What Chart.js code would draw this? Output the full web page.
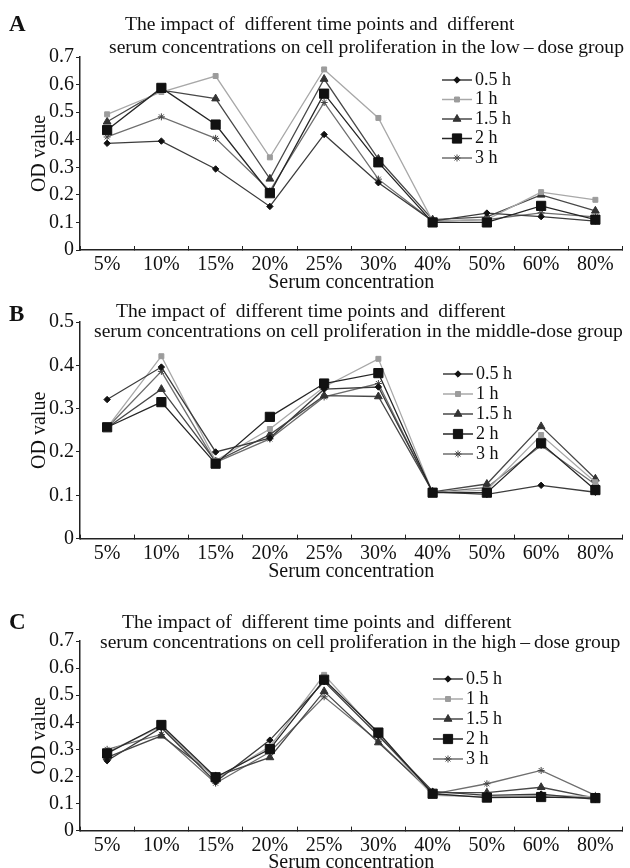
<!DOCTYPE html>
<html>
<head>
<meta charset="utf-8">
<script src="https://cdn.jsdelivr.net/npm/chart.js@4.4.0/dist/chart.umd.min.js"></script>
<style>
  html, body { margin: 0; padding: 0; background: #fff; }
  body { width: 630px; height: 868px; position: relative; overflow: hidden; }
  .panel { position: absolute; left: 0; width: 630px; }
  canvas { display: block; }
</style>
</head>
<body>
<div class="panel" style="top:0px"><canvas id="chartA" width="630" height="290"></canvas></div>
<div class="panel" style="top:290px"><canvas id="chartB" width="630" height="290"></canvas></div>
<div class="panel" style="top:580px"><canvas id="chartC" width="630" height="288"></canvas></div>
<script>
// x categories and series names
const categories = ['5%', '10%', '15%', '20%', '25%', '30%', '40%', '50%', '60%', '80%'];
const seriesNames = ['0.5 h', '1 h', '1.5 h', '2 h', '3 h'];

// A - low-dose group (OD value)
const low05 = [0.387, 0.395, 0.294, 0.158, 0.419, 0.244, 0.105, 0.134, 0.121, 0.105];
const low1  = [0.492, 0.573, 0.631, 0.336, 0.655, 0.479, 0.105, 0.110, 0.210, 0.182];
const low15 = [0.465, 0.580, 0.549, 0.258, 0.620, 0.330, 0.110, 0.120, 0.200, 0.142];
const low2  = [0.435, 0.588, 0.455, 0.206, 0.567, 0.318, 0.100, 0.100, 0.160, 0.110];
const low3  = [0.410, 0.483, 0.405, 0.215, 0.535, 0.257, 0.105, 0.110, 0.135, 0.120];

// B - middle-dose group
const mid05 = [0.321, 0.396, 0.200, 0.232, 0.345, 0.350, 0.108, 0.102, 0.123, 0.107];
const mid1  = [0.256, 0.421, 0.180, 0.253, 0.350, 0.415, 0.106, 0.112, 0.239, 0.130];
const mid15 = [0.256, 0.345, 0.178, 0.240, 0.330, 0.328, 0.108, 0.126, 0.259, 0.138];
const mid2  = [0.257, 0.315, 0.173, 0.281, 0.358, 0.382, 0.106, 0.106, 0.220, 0.112];
const mid3  = [0.256, 0.386, 0.176, 0.230, 0.327, 0.358, 0.106, 0.118, 0.215, 0.125];

// C - high-dose group
const high05 = [0.258, 0.380, 0.180, 0.334, 0.550, 0.350, 0.145, 0.130, 0.135, 0.115];
const high1  = [0.290, 0.385, 0.190, 0.310, 0.575, 0.355, 0.130, 0.125, 0.130, 0.125];
const high15 = [0.270, 0.350, 0.200, 0.270, 0.514, 0.325, 0.140, 0.140, 0.160, 0.120];
const high2  = [0.285, 0.390, 0.197, 0.301, 0.557, 0.362, 0.136, 0.122, 0.124, 0.120];
const high3  = [0.300, 0.355, 0.175, 0.290, 0.494, 0.330, 0.135, 0.173, 0.222, 0.130];

// y axis ranges
const yMaxLow = 0.7, yMaxMid = 0.5, yMaxHigh = 0.7;
const yStep = 0.1;

const FONT = "'Liberation Serif', 'Times New Roman', serif";

// look of each time point
const seriesStyle = [
  { line: '#3c3c3c', fill: '#111', point: 'rectRot', r: 3.2, order: 1 },
  { line: '#a8a8a8', fill: '#9c9c9c', point: 'rect', r: 3.5, order: 1 },
  { line: '#484848', fill: '#333', point: 'triangle', r: 4.5, order: 1 },
  { line: '#262626', fill: '#111', point: 'rect', r: 6.5, order: 0 },
  { line: '#6e6e6e', fill: '#444', point: 'star', r: 3.5, order: 1 }
];

function buildDatasets(rows) {
  return rows.map((vals, i) => {
    const s = seriesStyle[i];
    return {
      label: seriesNames[i],
      data: vals,
      borderColor: s.line,
      borderWidth: 1.3,
      pointStyle: s.point,
      pointRadius: s.r,
      pointBackgroundColor: s.fill,
      pointBorderColor: s.fill,
      pointBorderWidth: 1,
      order: s.order,
      tension: 0
    };
  });
}

function marker(ctx, style, r, x, y, fill) {
  if (Chart.helpers && Chart.helpers.drawPoint) {
    ctx.fillStyle = fill;
    ctx.strokeStyle = fill;
    ctx.lineWidth = 1;
    Chart.helpers.drawPoint(ctx, { pointStyle: style, radius: r, borderWidth: 1, rotation: 0 }, x, y);
  }
}

// legend + titles + panel letter
const panelText = {
  id: 'panelText',
  afterDraw(chart) {
    const o = chart.options.plugins.panelText;
    const ctx = chart.ctx;
    ctx.save();
    ctx.fillStyle = '#111';
    ctx.textBaseline = 'middle';
    ctx.textAlign = 'left';
    ctx.font = 'bold 23px ' + FONT;
    ctx.fillText(o.letter, 9, o.letterY);
    ctx.font = '19.6px ' + FONT;
    o.lines.forEach(l => ctx.fillText(l.text, l.x, l.y));

    // legend
    chart.data.datasets.forEach((ds, i) => {
      const s = seriesStyle[i];
      const y = o.legY + i * o.legStep;
      ctx.strokeStyle = s.line;
      ctx.lineWidth = 1.5;
      ctx.beginPath();
      ctx.moveTo(o.legX, y);
      ctx.lineTo(o.legX + 30, y);
      ctx.stroke();
      marker(ctx, s.point, s.r, o.legX + 15, y, s.fill);
      ctx.fillStyle = '#111';
      ctx.font = '18px ' + FONT;
      ctx.textBaseline = 'middle';
      ctx.fillText(ds.label, o.legX + 33, y);
    });
    ctx.restore();
  }
};

function makeChart(id, rows, yMax, p) {
  const canvas = document.getElementById(id);
  const h = canvas.height;
  return new Chart(canvas, {
    type: 'line',
    data: { labels: categories, datasets: buildDatasets(rows) },
    plugins: [panelText],
    options: {
      responsive: false,
      animation: false,
      devicePixelRatio: 1,
      layout: { padding: { top: p.areaTop, left: 0, right: 3, bottom: 0 } },
      plugins: {
        legend: { display: false },
        tooltip: { enabled: false },
        panelText: p
      },
      scales: {
        x: {
          offset: true,
          grid: { offset: true, drawOnChartArea: false, tickLength: -4, color: '#222', lineWidth: 1 },
          border: { color: '#222', width: 1.5 },
          ticks: { color: '#111', padding: 7, font: { family: FONT, size: 20 }, maxRotation: 0, autoSkip: false },
          title: {
            display: true, text: 'Serum concentration', color: '#111',
            font: { family: FONT, size: 20, lineHeight: 0.5 },
            padding: { top: 0, bottom: p.xTitlePad }
          },
          afterFit: s => { s.height = h - p.areaBottom; }
        },
        y: {
          min: 0, max: yMax,
          grid: { drawOnChartArea: false, tickLength: 4, color: '#222', lineWidth: 1 },
          border: { color: '#222', width: 1.5 },
          ticks: { stepSize: yStep, color: '#111', padding: 2, font: { family: FONT, size: 20 } },
          title: {
            display: true, text: 'OD value', color: '#111',
            font: { family: FONT, size: 20, lineHeight: 1.2 },
            padding: { top: 28, bottom: 0 }
          },
          afterFit: s => { s.width = 80; }
        }
      }
    }
  });
}

makeChart('chartA', [low05, low1, low15, low2, low3], yMaxLow, {
  areaTop: 57, areaBottom: 250, xTitlePad: 2,
  letter: 'A', letterY: 25,
  lines: [
    { text: 'The impact of  different time points and  different', x: 125, y: 25 },
    { text: 'serum concentrations on cell proliferation in the low\u2009\u2013\u2009dose group', x: 109, y: 48 }
  ],
  legX: 442, legY: 80, legStep: 19.5
});

makeChart('chartB', [mid05, mid1, mid15, mid2, mid3], yMaxMid, {
  areaTop: 32, areaBottom: 248.6, xTitlePad: 3,
  letter: 'B', letterY: 25,
  lines: [
    { text: 'The impact of  different time points and  different', x: 116, y: 22 },
    { text: 'serum concentrations on cell proliferation in the middle-dose group', x: 94, y: 42 }
  ],
  legX: 443, legY: 84, legStep: 20
});

makeChart('chartC', [high05, high1, high15, high2, high3], yMaxHigh, {
  areaTop: 61, areaBottom: 250.6, xTitlePad: 0,
  letter: 'C', letterY: 43,
  lines: [
    { text: 'The impact of  different time points and  different', x: 122, y: 43 },
    { text: 'serum concentrations on cell proliferation in the high\u2009\u2013\u2009dose group', x: 100, y: 63 }
  ],
  legX: 433, legY: 99, legStep: 20
});
</script>
</body>
</html>
